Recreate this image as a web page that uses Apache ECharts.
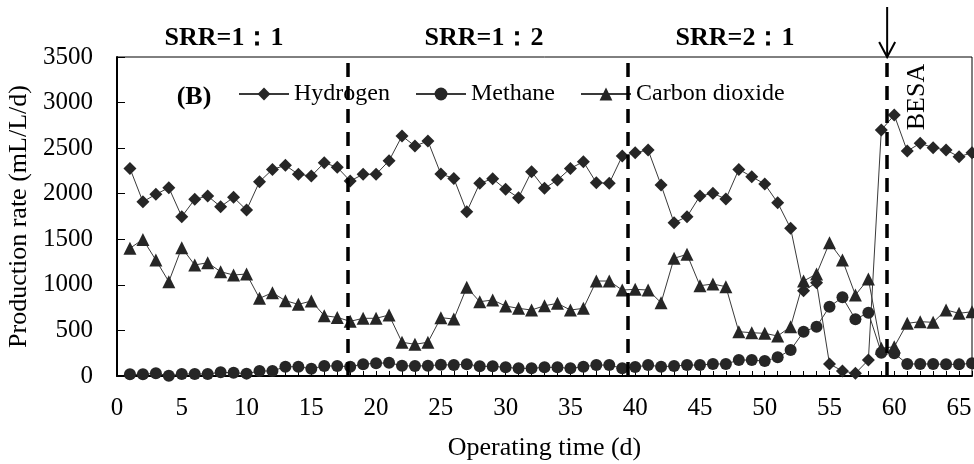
<!DOCTYPE html>
<html><head><meta charset="utf-8">
<script src="https://cdn.jsdelivr.net/npm/echarts@6/dist/echarts.min.js"></script>
<style>html,body{margin:0;padding:0;background:#fff}#c{width:974px;height:464px}</style>
</head><body><div id="c"></div>
<script>
const days = [];
for (let d = 1; d <= 66; d++) days.push(d);
const hydrogen = [2278,1912,1993,2066,1748,1938,1975,1858,1960,1821,2132,2267,2311,2213,2194,2340,2290,2140,2213,2213,2362,2633,2523,2578,2216,2168,1803,2114,2165,2048,1956,2242,2059,2150,2278,2351,2121,2114,2413,2450,2479,2095,1682,1748,1975,2004,1942,2267,2187,2106,1901,1620,936,1024,132,55,29,175,2699,2863,2468,2553,2505,2479,2406,2450];
const methane = [18,18,29,4,22,22,22,40,36,26,55,55,102,102,80,110,110,102,130,139,146,112,110,112,124,120,130,106,106,95,84,84,95,95,84,102,120,120,84,98,120,102,110,120,120,132,132,175,175,164,205,285,486,541,760,863,622,695,256,249,132,132,132,128,128,139];
const carbonDioxide = [1401,1499,1272,1035,1408,1218,1243,1144,1108,1119,852,914,826,786,823,662,643,600,633,633,669,370,348,370,640,625,973,815,834,768,742,724,771,797,724,742,1042,1042,943,951,943,804,1291,1335,991,1009,980,486,475,468,439,541,1042,1119,1462,1272,889,1064,304,321,578,596,589,724,688,705];
const phaseBoundaries = [17.85, 39.4, 59.45];
const phaseLabels = ['SRR=1：1', 'SRR=1：2', 'SRR=2：1'];
const seriesNames = ['Hydrogen', 'Methane', 'Carbon dioxide'];

const FONT = '"Liberation Serif","Times New Roman",serif';
const chart = echarts.init(document.getElementById('c'));
const lineStyle = {color: '#3a3a3a', width: 1};
const mk = '#262626';
const pairs = arr => days.map((d, i) => [d, arr[i]]);
const legendCommon = {padding: 0, itemWidth: 50, itemHeight: 16, itemGap: 0, top: 82,
  textStyle: {fontSize: 24, fontFamily: FONT, color: '#000'}};

chart.setOption({
  animation: false,
  backgroundColor: '#fff',
  textStyle: {fontFamily: FONT, color: '#000'},
  grid: {left: 117, right: 2, top: 57, bottom: 88, show: true, borderColor: '#000', borderWidth: 1,
    containLabel: false, outerBoundsMode: 'none'},
  legend: [
    Object.assign({data: [seriesNames[0]], left: 238}, legendCommon),
    Object.assign({data: [seriesNames[1]], left: 415}, legendCommon),
    Object.assign({data: [seriesNames[2]], left: 580}, legendCommon)
  ],
  xAxis: [
    {type: 'value', min: 0, max: 66, interval: 5, position: 'bottom',
     axisLine: {lineStyle: {color: '#000', width: 2}}, axisTick: {show: false},
     axisLabel: {fontSize: 25, color: '#000', margin: 20, showMaxLabel: false, fontFamily: FONT},
     splitLine: {show: false},
     name: 'Operating time (d)', nameLocation: 'middle', nameGap: 59,
     nameTextStyle: {fontSize: 26, color: '#000', fontFamily: FONT}},
    {type: 'value', min: 0, max: 66, interval: 1, position: 'bottom',
     axisLine: {show: false}, axisTick: {show: true, inside: true, length: 5, lineStyle: {color: '#000', width: 1}},
     axisLabel: {show: false}, splitLine: {show: false}}
  ],
  yAxis: {type: 'value', min: 0, max: 3500, interval: 500,
    axisLine: {show: true, lineStyle: {color: '#000', width: 2}},
    axisTick: {show: true, inside: true, length: 8, lineStyle: {color: '#000', width: 1}},
    axisLabel: {fontSize: 25, color: '#000', margin: 24, fontFamily: FONT, formatter: v => String(v)},
    splitLine: {show: false},
    name: 'Production rate (mL/L/d)', nameLocation: 'middle', nameGap: 80,
    nameTextStyle: {fontSize: 26, color: '#000', fontFamily: FONT}},
  series: [
    {name: seriesNames[0], type: 'line', data: pairs(hydrogen), symbol: 'diamond', symbolSize: 13,
     itemStyle: {color: mk}, lineStyle: lineStyle, z: 3,
     markLine: {silent: true, symbol: ['none', 'none'], label: {show: false},
       lineStyle: {type: [14, 9], width: 3.5, color: '#000'},
       data: phaseBoundaries.map(v => ({xAxis: v}))}},
    {name: seriesNames[1], type: 'line', data: pairs(methane), symbol: 'circle', symbolSize: 12,
     itemStyle: {color: mk}, lineStyle: lineStyle, z: 3},
    {name: seriesNames[2], type: 'line', data: pairs(carbonDioxide), symbol: 'triangle', symbolSize: 13,
     itemStyle: {color: mk}, lineStyle: lineStyle, z: 3}
  ]
});

const ax = chart.convertToPixel({xAxisIndex: 0}, phaseBoundaries[2]);
const topY = chart.convertToPixel({yAxisIndex: 0}, 3500);
const boldFont = 'bold 26px ' + FONT;
chart.setOption({
  graphic: [
    {type: 'text', x: 224, y: 38, style: {text: phaseLabels[0], font: boldFont, fill: '#000', textAlign: 'center', textVerticalAlign: 'middle'}},
    {type: 'text', x: 484, y: 38, style: {text: phaseLabels[1], font: boldFont, fill: '#000', textAlign: 'center', textVerticalAlign: 'middle'}},
    {type: 'text', x: 735, y: 38, style: {text: phaseLabels[2], font: boldFont, fill: '#000', textAlign: 'center', textVerticalAlign: 'middle'}},
    {type: 'text', x: 194, y: 97, style: {text: '(B)', font: boldFont, fill: '#000', textAlign: 'center', textVerticalAlign: 'middle'}},
    {type: 'text', x: 917, y: 97, rotation: Math.PI / 2, style: {text: 'BESA', font: '26px ' + FONT, fill: '#000', textAlign: 'center', textVerticalAlign: 'middle'}},
    {type: 'line', shape: {x1: ax, y1: 7, x2: ax, y2: topY}, style: {stroke: '#000', lineWidth: 2}},
    {type: 'polyline', shape: {points: [[ax - 8, topY - 15], [ax, topY], [ax + 8, topY - 15]]}, style: {stroke: '#000', lineWidth: 2, fill: null}}
  ]
});
</script></body></html>
